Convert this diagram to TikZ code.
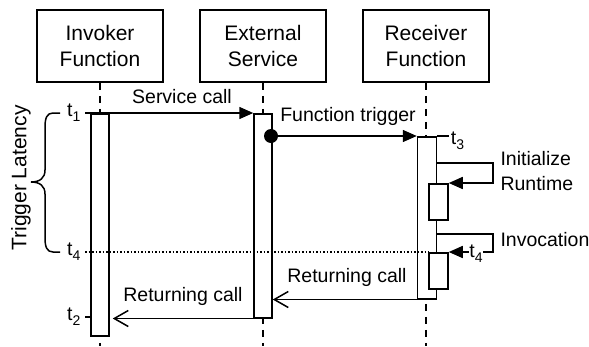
\documentclass[tikz,border=0pt]{standalone}
\usepackage{fontspec}
\setmainfont{Liberation Sans}
\usepackage{tikz}
\usetikzlibrary{positioning,arrows.meta,calc}
\newcommand{\tmark}[1]{t\raisebox{-5pt}{\fontsize{14}{14}\selectfont #1}}
\tikzset{
  actor/.style={draw,line width=1.5pt,minimum width=126pt,minimum height=72pt,
    align=center,font=\fontsize{21}{26.5}\selectfont},
  bar/.style={draw,line width=1.5pt,fill=white,minimum width=18pt,inner sep=0pt},
  life/.style={line width=1.5pt,dash pattern=on 7pt off 6pt},
  msg/.style={line width=1.5pt,-{Triangle[length=14pt,width=12pt]}},
  ret/.style={line width=1.5pt,-{Straight Barb[length=14pt,width=16pt]}},
  dotline/.style={line width=1.5pt,dash pattern=on 1.5pt off 2pt},
  tlbl/.style={inner sep=1.5pt},
}

\begin{document}
\begin{tikzpicture}[x=1pt,y=-1pt,every node/.style={font=\fontsize{19.5}{25}\selectfont}]
  \useasboundingbox (0,0) rectangle (589,346);
  % heads
  \node[actor] (inv) at (100,46) {Invoker\\Function};
  \node[actor] (ext) at (263,46) {External\\Service};
  \node[actor] (rec) at (426,46) {Receiver\\Function};
  % lifelines
  \foreach \a in {inv,ext,rec}{\draw[life] (\a.south) -- (\a.south |- 0,346);}
  % activations
  \node[bar,anchor=north,minimum height=222pt] (bar-inv) at (100,113) {};
  \node[bar,anchor=north,minimum height=204pt] (bar-ext) at (263,113) {};
  \node[bar,anchor=north,minimum width=19pt,minimum height=162pt] (bar-rec) at (427,136) {};
  \node[bar,anchor=north,minimum width=19pt,minimum height=36pt] (init) at (438.5,183) {};
  \node[bar,anchor=north,minimum width=19pt,minimum height=36pt] (call) at (438.5,252) {};

  % service call
  \coordinate (c1) at (85,113);
  \draw[msg] (c1) -- (bar-ext.north west);
  \node (svc) at (182,97) {Service call};
  \node[tlbl,anchor=east] (t1) at ($(c1)+(-3,0)$) {\tmark{1}};

  % function trigger
  \node[circle,fill,inner sep=0pt,minimum size=14pt] (trig) at (271,136) {};
  \draw[msg] (trig) -- (bar-rec.north west);
  \node (trg) at (348,116) {Function trigger};
  \draw[line width=1.5pt] (bar-rec.north east) -- ++(12,0) coordinate (c3);
  \node[tlbl,anchor=west,yshift=-5pt] (t3) at (c3) {\tmark{3}};

  % receiver self calls
  \draw[msg] (bar-rec.east |- 0,163) -- (493,163) |- (init.north east);
  \node[anchor=west,align=left] (initlbl) at (497,171) {Initialize\\Runtime};
  \draw[msg] (bar-rec.east |- 0,234) -- (493,234) |- (call.north east);
  \node[anchor=west] (calllbl) at (497,240) {Invocation};
  \node[fill=white,inner sep=0.5pt] (t4r) at (476,254) {\tmark{4}};

  % t4 marker
  \coordinate (c4) at (85,252);
  \draw[dotline] (c4) -- (call.north west);
  \node[tlbl,anchor=east] (t4) at ($(c4)+(-3,0)$) {\tmark{4}};

  % returning calls
  \draw[ret] (bar-rec.south west) -- (bar-ext.east |- bar-rec.south);
  \node (ret1) at (347,277) {Returning call};
  \draw[ret,shorten >=3pt] (bar-ext.south west) -- (bar-inv.east |- bar-ext.south);
  \node (ret2) at (183,296) {Returning call};
  \coordinate (c2) at (85,317);
  \draw[line width=1.5pt] (c2) -- (bar-inv.west |- c2);
  \node[tlbl,anchor=east] (t2) at ($(c2)+(-3,0)$) {\tmark{2}};

  % latency brace
  \draw[line width=1.5pt] (60,113) -- (53,113) .. controls (47,113) and (45,118) .. (45,127)
    -- (45,170) .. controls (45,178) and (40,182) .. (31,182)
    .. controls (40,182) and (45,186) .. (45,194) -- (45,238)
    .. controls (45,247) and (47,252) .. (53,252) -- (60,252);
  \node[rotate=90,font=\fontsize{21}{25}\selectfont] (lat) at (21,178) {Trigger Latency};
\end{tikzpicture}
\end{document}
